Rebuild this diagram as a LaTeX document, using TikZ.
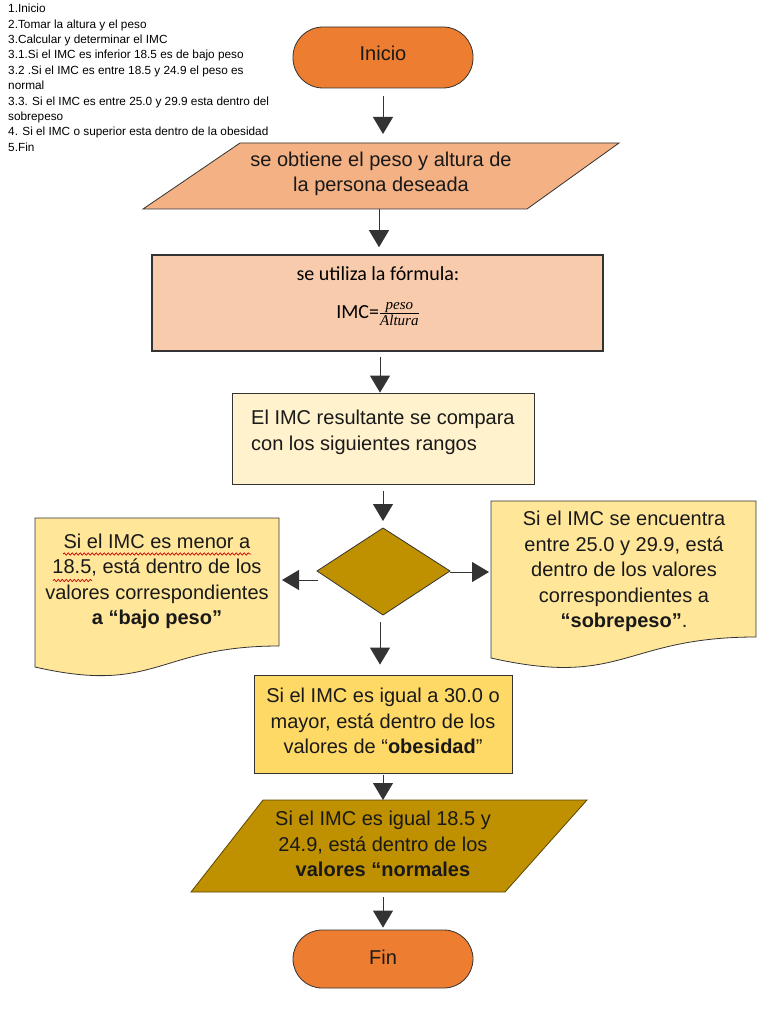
\documentclass[tikz,border=0pt]{standalone}
\usepackage{fontspec}
\setmainfont{Liberation Sans}
\newfontfamily\carl{Carlito}
\newfontfamily\fracfont{Liberation Serif}
\usetikzlibrary{arrows.meta,decorations.pathmorphing}
\definecolor{cInicio}{HTML}{ED7D31}
\definecolor{cPar}{HTML}{F4B183}
\definecolor{cForm}{HTML}{F8CBAD}
\definecolor{cComp}{HTML}{FFF2CC}
\definecolor{cDoc}{HTML}{FFE699}
\definecolor{cObe}{HTML}{FFD966}
\definecolor{cGold}{HTML}{BF9000}
\definecolor{cLine}{HTML}{333333}
\definecolor{cGoldB}{HTML}{5A4600}
\newcommand{\fpart}[1]{\hbox{\fracfont\fontsize{15}{15}\selectfont\itshape #1}}
\tikzset{
  term/.style={draw=cLine, line width=0.8pt, fill=cInicio, rounded corners=30pt, minimum width=180pt, minimum height=61pt, font=\fontsize{20}{25}\selectfont},
  boxtxt/.style={align=center, font=\fontsize{20}{25.5}\selectfont, text=black!90, inner sep=0pt},
  shp/.style={draw=cLine, line width=0.8pt},
  arr/.style={draw=cLine, line width=0.9pt, -{Triangle[width=20pt,length=17pt]}},
  wavy/.style={draw=red!80!black, line width=0.7pt, decorate, decoration={snake, amplitude=1.1pt, segment length=4pt}}
}
\begin{document}
\begin{tikzpicture}[x=1pt,y=-1pt]
\useasboundingbox (0,0) rectangle (768,1024);
% top-left list
\node[anchor=north west, align=left, inner sep=0pt, font=\fontsize{11.8}{15.4}\selectfont] (list) at (8,4) {1.Inicio\\
2.Tomar la altura y el peso\\
3.Calcular y determinar el IMC\\
3.1.Si el IMC es inferior 18.5 es de bajo peso\\
3.2 .Si el IMC es entre 18.5 y 24.9 el peso es\\
normal\\
3.3. Si el IMC es entre 25.0 y 29.9 esta dentro del\\
sobrepeso\\
4. Si el IMC o superior esta dentro de la obesidad\\
5.Fin};
% Inicio
\node[term] (ini) at (383,57.5) {};
\node[boxtxt] (initxt) at (383,53) {Inicio};
% parallelogram 1
\path[shp, fill=cPar] (240,143) -- (619,143) -- (527,209) -- (143,209) -- cycle;
\coordinate (p1t) at (379,143);
\coordinate (p1b) at (379,209);
\node[boxtxt] (p1) at (381,174) {se obtiene el peso y altura de\\la persona deseada};
% formula box
\node[draw=cLine, line width=1.6pt, fill=cForm, minimum width=451pt, minimum height=96pt, inner sep=0pt] (form) at (377.5,303) {};
\node[inner sep=0pt, font=\carl\fontsize{20}{24}\selectfont] (ftit) at (378,274) {se utiliza la fórmula:};
\node[inner sep=0pt, font=\carl\fontsize{20}{24}\selectfont] (fimc) at (378,314) {IMC=$\frac{\fpart{peso}}{\fpart{Altura}}$};
% comparison box
\node[draw=cLine, line width=0.8pt, fill=cComp, minimum width=302pt, minimum height=91pt, inner sep=0pt] (comp) at (383,438.5) {};
\node[anchor=west, align=left, font=\fontsize{20}{26}\selectfont, inner sep=0pt, text=black!90] (ctxt) at (251,432) {El IMC resultante se compara\\con los siguientes rangos};
% diamond
\path[shp, fill=cGold] (383,528) -- (450,571) -- (383,615) -- (317,571) -- cycle;
\coordinate (dt) at (383,528);
\coordinate (db) at (380,615);
\coordinate (dl) at (318,580);
\coordinate (dr) at (450,572);
% left document
\path[shp, fill=cDoc] (35,518) -- (279,518) -- (279,646) .. controls (157,646) and (157,695) .. (35,667) -- cycle;
\coordinate (ldr) at (279,580);
\node[boxtxt] (ltxt) at (157,581.5) {Si el IMC es menor a\\18.5, está dentro de los\\valores correspondientes\\\textbf{a “bajo peso”}};
\draw[wavy] (63,554) -- (251,554);
\draw[wavy] (53,580.5) -- (92,580.5);
% right document
\path[shp, fill=cDoc] (491,501) -- (756,501) -- (756,637) .. controls (623.5,637) and (623.5,688) .. (491,658) -- cycle;
\coordinate (rdl) at (491,572);
\node[boxtxt] (rtxt) at (624,571.5) {Si el IMC se encuentra\\entre 25.0 y 29.9, está\\dentro de los valores\\correspondientes a\\\textbf{“sobrepeso”}.};
% obesidad box
\node[draw=cLine, line width=0.8pt, fill=cObe, minimum width=258pt, minimum height=98pt, inner sep=0pt] (obe) at (383,724) {};
\node[boxtxt] (otxt) at (383,721) {Si el IMC es igual a 30.0 o\\mayor, está dentro de los\\valores de “\textbf{obesidad}”};
% parallelogram 2
\path[draw=cGoldB, line width=0.8pt, fill=cGold] (263,800) -- (587,800) -- (505,892) -- (191,892) -- cycle;
\coordinate (p2t) at (383,800);
\coordinate (p2b) at (383,892);
\node[boxtxt] (p2) at (383,844) {Si el IMC es igual 18.5 y\\24.9, está dentro de los\\\textbf{valores “normales}};
% Fin
\node[term, minimum height=58pt, rounded corners=29pt] (fin) at (383,959) {};
\node[boxtxt] (fintxt) at (383,957) {Fin};
% arrows
\draw[arr, shorten <=8pt, shorten >=9pt] (ini.south) -- (ini.south |- p1t);
\draw[arr, shorten >=7pt] (p1b) -- (p1b |- form.north);
\draw[arr, shorten <=5pt] (form.south -| 380,0) -- (comp.north -| 380,0);
\draw[arr, shorten <=7pt, shorten >=7pt] (comp.south) -- (dt);
\draw[arr, shorten <=7pt, shorten >=10pt] (db) -- (obe.north -| db);
\draw[arr, shorten <=2pt] (obe.south) -- (p2t);
\draw[arr, shorten <=5pt, shorten >=2pt] (p2b) -- (fin.north);
\draw[arr, shorten >=3pt] (dl) -- (ldr);
\draw[arr, shorten >=2pt] (dr) -- (rdl);
\end{tikzpicture}
\end{document}
